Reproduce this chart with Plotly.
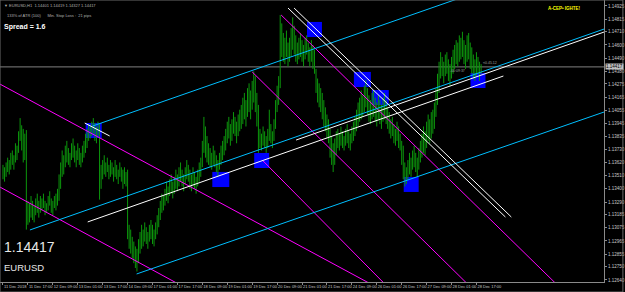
import plotly.graph_objects as go

# ---------------- data ----------------
highs = [
1.1360,1.1358,1.1362,1.1366,1.1364,1.1370,1.1372,1.1368,1.1378,1.1376,
1.1388,1.1399,1.1393,1.1390,1.1386,1.1389,1.1330,1.1328,1.1334,1.1330,
1.1326,1.1332,1.1336,1.1330,1.1334,1.1332,1.1336,1.1330,1.1328,1.1334,
1.1338,1.1332,1.1330,1.1334,1.1336,1.1340,1.1352,1.1362,1.1372,1.1368,
1.1376,1.1380,1.1374,1.1370,1.1378,1.1382,1.1376,1.1372,1.1378,1.1374,
1.1370,1.1376,1.1380,1.1386,1.1390,1.1394,1.1392,1.1396,1.1399,1.1395,
1.1392,1.1396,1.1394,1.1360,1.1364,1.1368,1.1362,1.1366,1.1360,1.1364,
1.1362,1.1358,1.1364,1.1360,1.1356,1.1362,1.1358,1.1356,1.1358,1.1354,
1.1356,1.1310,1.1306,1.1300,1.1296,1.1292,1.1290,1.1298,1.1304,1.1310,
1.1306,1.1312,1.1308,1.1304,1.1310,1.1314,1.1310,1.1306,1.1312,1.1318,
1.1324,1.1330,1.1336,1.1334,1.1340,1.1346,1.1342,1.1348,1.1352,1.1346,
1.1350,1.1356,1.1352,1.1358,1.1362,1.1356,1.1352,1.1358,1.1364,1.1360,
1.1356,1.1352,1.1358,1.1354,1.1350,1.1356,1.1362,1.1366,1.1380,1.1400,
1.1392,1.1384,1.1378,1.1374,1.1370,1.1376,1.1372,1.1368,1.1364,1.1370,
1.1376,1.1380,1.1384,1.1390,1.1396,1.1400,1.1394,1.1398,1.1404,1.1400,
1.1396,1.1402,1.1406,1.1410,1.1416,1.1420,1.1414,1.1424,1.1428,1.1422,
1.1430,1.1438,1.1434,1.1420,1.1410,1.1390,1.1386,1.1392,1.1388,1.1384,
1.1390,1.1406,1.1394,1.1388,1.1398,1.1414,1.1426,1.1434,1.1485,1.1478,
1.1470,1.1466,1.1472,1.1462,1.1466,1.1474,1.1483,1.1476,1.1468,1.1462,
1.1466,1.1470,1.1464,1.1460,1.1466,1.1468,1.1462,1.1458,1.1464,1.1460,
1.1456,1.1440,1.1432,1.1428,1.1424,1.1420,1.1414,1.1408,1.1402,1.1398,
1.1390,1.1384,1.1378,1.1382,1.1388,1.1390,1.1386,1.1392,1.1388,1.1384,
1.1390,1.1394,1.1388,1.1386,1.1392,1.1396,1.1400,1.1406,1.1412,1.1416,
1.1422,1.1418,1.1426,1.1431,1.1424,1.1418,1.1414,1.1420,1.1422,1.1416,
1.1412,1.1418,1.1414,1.1410,1.1416,1.1420,1.1414,1.1408,1.1404,1.1398,
1.1400,1.1394,1.1390,1.1396,1.1392,1.1386,1.1380,1.1376,1.1362,1.1358,
1.1364,1.1370,1.1366,1.1372,1.1376,1.1370,1.1366,1.1374,1.1380,1.1386,
1.1392,1.1388,1.1396,1.1402,1.1398,1.1404,1.1406,1.1412,1.1424,1.1436,
1.1446,1.1454,1.1450,1.1446,1.1452,1.1454,1.1448,1.1444,1.1450,1.1456,
1.1460,1.1464,1.1462,1.1468,1.1466,1.1471,1.1464,1.1460,1.1468,1.1470,
1.1462,1.1458,1.1452,1.1448,1.1454,1.1450,1.1446,1.1444]

lows = [
1.1348,1.1346,1.1350,1.1354,1.1352,1.1356,1.1360,1.1356,1.1362,1.1364,
1.1370,1.1380,1.1372,1.1362,1.1364,1.1306,1.1310,1.1312,1.1316,1.1314,
1.1312,1.1318,1.1320,1.1316,1.1320,1.1322,1.1324,1.1318,1.1320,1.1322,
1.1326,1.1320,1.1318,1.1324,1.1322,1.1326,1.1330,1.1340,1.1350,1.1352,
1.1358,1.1362,1.1360,1.1358,1.1364,1.1366,1.1362,1.1358,1.1364,1.1360,
1.1358,1.1362,1.1366,1.1370,1.1374,1.1380,1.1382,1.1384,1.1386,1.1380,
1.1378,1.1384,1.1331,1.1340,1.1348,1.1352,1.1350,1.1354,1.1348,1.1350,
1.1352,1.1346,1.1350,1.1348,1.1344,1.1350,1.1346,1.1340,1.1344,1.1342,
1.1298,1.1290,1.1286,1.1282,1.1278,1.1274,1.1271,1.1278,1.1286,1.1290,
1.1292,1.1296,1.1294,1.1290,1.1296,1.1298,1.1294,1.1292,1.1298,1.1302,
1.1308,1.1314,1.1320,1.1322,1.1326,1.1330,1.1328,1.1334,1.1336,1.1332,
1.1336,1.1340,1.1338,1.1342,1.1346,1.1342,1.1338,1.1344,1.1348,1.1346,
1.1340,1.1338,1.1342,1.1340,1.1336,1.1342,1.1346,1.1350,1.1358,1.1370,
1.1366,1.1362,1.1360,1.1358,1.1356,1.1360,1.1358,1.1354,1.1350,1.1356,
1.1360,1.1364,1.1368,1.1372,1.1378,1.1382,1.1376,1.1380,1.1386,1.1384,
1.1378,1.1384,1.1388,1.1390,1.1394,1.1398,1.1392,1.1400,1.1404,1.1398,
1.1406,1.1412,1.1404,1.1392,1.1370,1.1374,1.1372,1.1376,1.1374,1.1370,
1.1374,1.1380,1.1378,1.1374,1.1380,1.1390,1.1404,1.1410,1.1424,1.1450,
1.1446,1.1444,1.1450,1.1442,1.1446,1.1450,1.1456,1.1452,1.1446,1.1444,
1.1448,1.1450,1.1446,1.1442,1.1448,1.1452,1.1446,1.1442,1.1446,1.1440,
1.1436,1.1420,1.1412,1.1408,1.1404,1.1398,1.1392,1.1388,1.1382,1.1378,
1.1366,1.1360,1.1354,1.1360,1.1368,1.1374,1.1372,1.1376,1.1374,1.1372,
1.1376,1.1378,1.1374,1.1372,1.1378,1.1380,1.1384,1.1388,1.1392,1.1396,
1.1398,1.1400,1.1404,1.1408,1.1402,1.1396,1.1394,1.1398,1.1400,1.1396,
1.1392,1.1398,1.1394,1.1390,1.1396,1.1398,1.1394,1.1390,1.1386,1.1382,
1.1384,1.1378,1.1376,1.1380,1.1374,1.1372,1.1360,1.1348,1.1342,1.1344,
1.1348,1.1352,1.1350,1.1356,1.1358,1.1354,1.1350,1.1356,1.1362,1.1366,
1.1370,1.1368,1.1374,1.1380,1.1378,1.1382,1.1386,1.1390,1.1400,1.1410,
1.1420,1.1432,1.1434,1.1428,1.1434,1.1436,1.1430,1.1426,1.1432,1.1436,
1.1440,1.1444,1.1442,1.1446,1.1448,1.1450,1.1444,1.1440,1.1446,1.1448,
1.1440,1.1436,1.1432,1.1430,1.1434,1.1436,1.1430,1.1436]

time_labels = ["11 Dec 2018", "11 Dec 17:00", "12 Dec 09:00", "13 Dec 01:00",
               "13 Dec 17:00", "14 Dec 09:00", "17 Dec 01:00", "17 Dec 17:00",
               "18 Dec 09:00", "19 Dec 01:00", "19 Dec 17:00", "20 Dec 09:00",
               "21 Dec 01:00", "21 Dec 17:00", "24 Dec 09:00", "26 Dec 01:00",
               "26 Dec 17:00", "27 Dec 09:00", "28 Dec 01:00", "28 Dec 17:00"]
bars_per_label = 16

price_ticks = [1.12640, 1.12750, 1.12855, 1.12965, 1.13075, 1.13185, 1.13290,
               1.13400, 1.13510, 1.13620, 1.13730, 1.13835, 1.13945, 1.14055,
               1.14165, 1.14275, 1.14380, 1.14490, 1.14600, 1.14710, 1.14815,
               1.14925]
current_price = 1.14417

# trend lines: (bar0, price0, bar1, price1)
cyan_lines = [(57.6, 1.13924, 292.0, 1.14985),
              (17.3, 1.13057, 386.0, 1.14733),
              (85.8, 1.12690, 386.0, 1.14041)]
white_lines = [(52.5, 1.13949, 68.5, 1.13841),
               (54.4, 1.13124, 321.3, 1.14341),
               (188.2, 1.13807, 386.0, 1.14708),
               (183.0, 1.14908, 322.6, 1.13165),
               (186.9, 1.14908, 326.4, 1.13165)]
magenta_lines = [(-2.0, 1.14274, 236.2, 1.12606),
                 (-2.0, 1.13415, 111.4, 1.12615),
                 (166.4, 1.13641, 244.5, 1.12615),
                 (160.0, 1.14375, 297.6, 1.12615),
                 (178.6, 1.14850, 354.6, 1.12615)]
# blue boxes: (bar0, bar1, price_low, price_high)
boxes = [(53.1, 63.4, 1.13824, 1.13949),
         (134.4, 145.3, 1.13415, 1.13541),
         (161.3, 170.9, 1.13574, 1.13699),
         (195.2, 204.8, 1.14666, 1.14792),
         (225.3, 236.2, 1.14249, 1.14375),
         (236.8, 247.7, 1.14099, 1.14224),
         (257.3, 266.9, 1.13374, 1.13499),
         (300.2, 309.8, 1.14241, 1.14366)]

# ---------------- figure ----------------
fig = go.Figure()

shapes = []
for b0, b1, p0, p1 in boxes:
    shapes.append(dict(type="rect", x0=b0, x1=b1, y0=p0, y1=p1, xref="x", yref="y",
                       fillcolor="#0000FF", line=dict(width=0), layer="below"))

# current price line
shapes.append(dict(type="line", x0=0, x1=1, xref="paper", y0=current_price, y1=current_price,
                   yref="y", line=dict(color="#808080", width=1), layer="below"))
# window frame
shapes.append(dict(type="rect", xref="paper", yref="paper", x0=0.0, x1=1.0313,
                   y0=-0.0355, y1=1.0, line=dict(color="#6a6a6a", width=1), layer="above"))

# bars
bx, by = [], []
for i, (h, l) in enumerate(zip(highs, lows)):
    bx += [i, i, None]
    by += [l, h, None]
fig.add_trace(go.Scatter(x=bx, y=by, mode="lines", line=dict(color="#0c960c", width=1),
                         hoverinfo="skip", showlegend=False))

def add_lines(lines, color):
    xs, ys = [], []
    for a0, q0, a1, q1 in lines:
        xs += [a0, a1, None]
        ys += [q0, q1, None]
    fig.add_trace(go.Scatter(x=xs, y=ys, mode="lines", line=dict(color=color, width=1),
                             hoverinfo="skip", showlegend=False))

add_lines(magenta_lines, "#FF00FF")
add_lines(cyan_lines, "#00BFFF")
add_lines(white_lines, "#FFFFFF")

n_labels = len(time_labels)
fig.update_xaxes(range=[-1.92, 385.9], showgrid=False, zeroline=False,
                 showline=True, linecolor="#8a8a8a", linewidth=1,
                 tickvals=[k * bars_per_label for k in range(n_labels)],
                 ticktext=time_labels, ticks="outside", ticklen=2, tickcolor="#8a8a8a",
                 tickangle=0,
                 tickfont=dict(size=4, color="#c8c8c8", family="Arial"),
                 ticklabelposition="outside right", fixedrange=True)
fig.update_yaxes(range=[1.12623, 1.14975], side="right", showgrid=False, zeroline=False,
                 showline=True, linecolor="#8a8a8a", linewidth=1,
                 tickvals=price_ticks, ticktext=[f"{p:.5f}" for p in price_ticks],
                 ticks="outside", ticklen=2, tickcolor="#8a8a8a",
                 tickfont=dict(size=4.5, color="#c8c8c8", family="Arial"), fixedrange=True)

ann = []
ann.append(dict(x=1, xref="paper", xanchor="left", xshift=1, y=current_price, yref="y",
                text=f"{current_price:.5f}", showarrow=False, bgcolor="#c0c0c0",
                font=dict(size=4.5, color="#000000", family="Arial"), borderpad=0))
ann.append(dict(x=0.004, y=0.998, xref="paper", yref="paper", xanchor="left", yanchor="top",
                text="▼ EURUSD,H1  1.14401 1.14419 1.14327 1.14417", showarrow=False,
                font=dict(size=4, color="#b0b0b0", family="Arial")))
ann.append(dict(x=0.008, y=0.962, xref="paper", yref="paper", xanchor="left", yanchor="top",
                text="133% of ATR (100)      Min. Stop Loss :  21 pips", showarrow=False,
                font=dict(size=4, color="#b0b0b0", family="Arial")))
ann.append(dict(x=0.003, y=0.925, xref="paper", yref="paper", xanchor="left", yanchor="top",
                text="<b>Spread = 1.6</b>", showarrow=False,
                font=dict(size=7, color="#ffffff", family="Arial")))
ann.append(dict(x=0.966, y=0.985, xref="paper", yref="paper", xanchor="right", yanchor="top",
                text="<b>A-CEP• IGHTE!</b>", showarrow=False,
                font=dict(size=4.5, color="#ffff00", family="Arial")))
ann.append(dict(x=0.003, y=0.125, xref="paper", yref="paper", xanchor="left", yanchor="middle",
                text="1.14417", showarrow=False,
                font=dict(size=14, color="#e8e8e8", family="Arial")))
ann.append(dict(x=0.003, y=0.052, xref="paper", yref="paper", xanchor="left", yanchor="middle",
                text="EURUSD", showarrow=False,
                font=dict(size=9.5, color="#e8e8e8", family="Arial")))
ann.append(dict(x=286, y=current_price, xref="x", yref="y", xanchor="left", yanchor="top",
                text="-00:09:37", showarrow=False,
                font=dict(size=3.5, color="#a0a0a0", family="Arial")))
ann.append(dict(x=307, y=current_price, xref="x", yref="y", xanchor="left", yanchor="bottom",
                text="<0.45.12", showarrow=False,
                font=dict(size=3.5, color="#a0a0a0", family="Arial")))

fig.update_layout(width=625, height=292, margin=dict(l=0, r=19, t=0, b=10),
                  paper_bgcolor="#000000", plot_bgcolor="#000000",
                  showlegend=False, annotations=ann, shapes=shapes)

fig.write_html("out.html")
